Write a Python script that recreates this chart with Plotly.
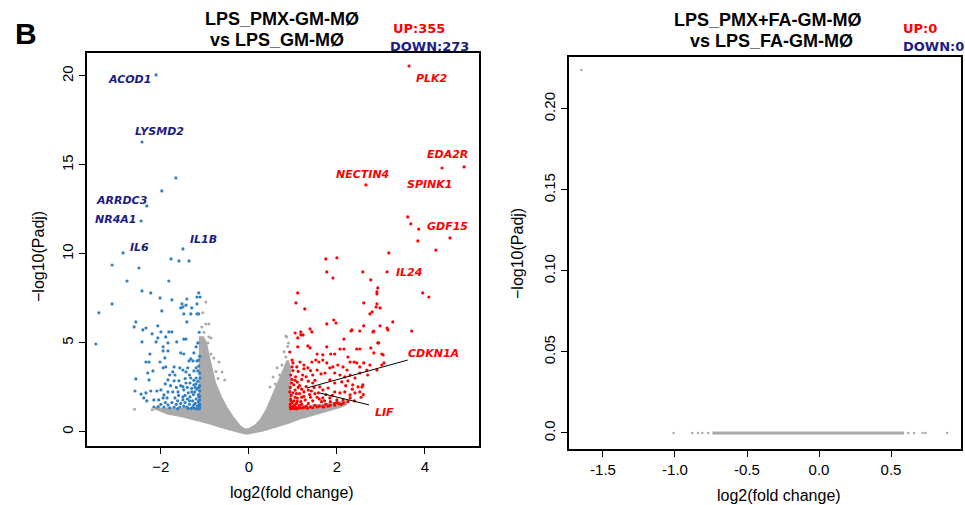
import plotly.graph_objects as go

W, H = 965, 505

# ---------------- Left panel data ----------------
blue_pts = [
(-2.11,20.06),(-2.43,16.29),(-1.66,14.27),(-1.98,13.54),(-2.32,12.70),(-2.45,11.85),(-2.86,10.06),(-1.50,10.28),
(-3.11,9.38),(-2.50,9.21),(-1.77,9.72),(-1.59,9.61),(-1.36,9.61),(-2.77,8.48),(-1.82,8.48),(-2.43,7.92),(-2.23,7.81),
(-2.02,7.53),(-1.75,7.42),(-1.41,7.47),(-1.18,7.58),(-1.14,7.81),(-1.11,7.58),(-3.11,7.19),(-1.52,7.19),(-1.55,6.97),
(-1.30,6.97),(-1.18,7.19),(-3.41,6.69),(-3.48,4.94),(-1.98,6.80),(-1.50,7.02),(-1.43,7.12),
(-1.48,6.63),(-1.32,6.63),(-1.18,6.63),(-1.14,6.63),(-1.41,6.18),(-2.57,6.18),(-2.61,5.90),(-2.34,5.84),(-2.41,5.73),
(-2.07,5.96),(-2.20,5.51),(-2.00,5.62),(-1.82,5.62),(-1.75,5.62),(-2.07,5.28),(-1.89,5.34),(-1.48,5.22),(-1.43,5.22),
(-2.43,5.06),(-2.11,5.06),(-1.84,5.00),(-1.64,5.06),(-1.95,4.78),(-1.84,4.55),(-1.95,4.55),(-1.20,4.78),(-2.25,4.38),
(-1.55,4.44),(-1.48,4.38),(-1.25,4.44),(-2.34,3.93),(-2.27,3.93),(-2.02,3.93),(-1.91,4.16),(-1.36,3.99),(-1.32,4.10),
(-1.27,3.99),(-1.18,3.99),(-1.14,4.04),(-1.70,3.65),(-1.89,3.65),(-1.95,3.60),(-1.57,3.60),(-1.50,3.48),(-1.39,3.60),
(-1.20,3.60),(-1.16,3.43),(-1.25,3.43),(-2.18,3.43),(-2.30,3.31),(-1.73,3.37),(-1.68,3.20),(-1.80,3.20),(-1.43,3.37),
(-1.32,3.03),(-1.20,3.03),(-1.11,3.03),(-2.57,2.98),(-2.27,2.92),(-1.84,2.92),(-1.70,2.87),(-1.59,2.87),(-1.43,2.75),
(-1.34,2.75),(-1.25,2.64),(-2.59,2.30),(-2.45,2.13),(-2.34,2.19),(-2.23,2.30),(-2.09,2.30),(-2.00,2.36),(-1.93,2.08),
(-1.84,2.25),(-1.73,2.25),(-1.61,2.25),(-1.48,2.36),(-2.39,1.91),(-2.32,1.74),(-2.16,1.80),(-2.05,1.80),(-1.95,1.91),
(-1.86,1.91),(-1.68,1.91),(-1.50,1.97),(-1.34,1.97),(-1.14,1.97),(-2.16,1.40),(-2.07,1.40),(-1.93,1.40),(-1.84,1.52),
(-1.70,1.40),(-1.57,1.40),(-1.41,1.40),(-1.25,1.52),(-1.14,1.52),
(-1.13,1.35),(-1.17,1.45),(-1.22,1.60),(-1.15,1.70),(-1.20,1.85),(-1.28,1.75),(-1.15,2.10),(-1.23,2.25),(-1.18,2.40),
(-1.30,2.45),(-1.38,2.20),(-1.12,2.60),(-1.16,2.85),(-1.28,1.40),(-1.35,1.55),(-1.45,1.65),(-1.40,1.85),(-1.55,1.60),
(-1.62,1.75),(-1.50,2.55),(-1.13,1.30),(-1.19,1.30),(-1.24,1.33),(-1.31,1.32),(-1.12,3.30),(-1.14,3.70),(-1.12,4.25),
(-1.16,5.00),(-1.13,5.60),
(-1.12,1.42),(-1.12,1.55),(-1.12,1.80),(-1.12,2.00),(-1.12,2.30),(-1.14,2.50),(-1.20,2.70),(-1.25,2.90),(-1.35,3.20),
(-1.45,3.00),(-1.55,2.60),(-1.65,2.50),(-1.78,2.60),(-1.90,2.70),(-1.45,2.05),(-1.60,2.05),(-1.75,1.65),(-1.90,1.65),
(-2.00,1.55),(-1.35,1.75),(-1.26,2.10),(-1.30,2.25),(-1.22,2.50),(-1.40,2.50),(-1.50,1.80),(-1.65,1.55),(-1.80,1.35),
(-1.48,1.45),(-1.62,1.30),(-1.38,1.32),
]
blue_x = [p[0] for p in blue_pts]
blue_y = [p[1] for p in blue_pts]

red_pts = [
(3.64,20.56),(4.39,14.83),(4.89,14.89),(2.66,13.88),(3.61,12.08),(3.68,11.69),(3.86,11.40),(4.57,10.90),(3.84,10.73),
(4.25,10.22),(3.18,10.06),(1.75,9.72),(2.00,9.78),(1.77,8.99),(1.91,8.65),(2.59,8.99),(2.77,8.54),(3.14,8.99),
(2.93,8.09),(2.91,7.87),(2.91,7.75),(3.95,7.81),(4.09,7.58),(1.11,7.81),(1.07,7.25),(1.27,6.91),(2.61,7.25),
(2.91,7.19),(2.98,6.97),(2.80,6.74),(2.75,6.63),(1.93,6.29),(1.77,6.07),(3.27,6.18),(1.39,5.79),(1.43,5.62),
(1.05,5.56),(1.18,5.62),(1.18,5.45),(1.23,5.45),(2.32,5.67),(2.52,5.67),(2.61,5.96),(2.84,5.67),(2.98,5.96),
(3.16,5.73),(3.70,5.67),(2.16,5.22),(1.11,5.28),(1.98,6.12),(1.11,4.78),(1.34,4.83),(1.39,4.72),(1.77,4.78),
(2.07,4.66),(2.16,4.66),(2.45,4.66),(2.52,4.66),(2.95,5.00),(2.77,4.72),(2.84,4.44),(3.02,4.38),(0.93,4.49),
(1.55,4.38),(1.68,4.33),(1.86,4.38),(1.95,4.38),(2.25,4.21),(2.30,3.93),(2.39,3.93),(0.98,4.04),(1.00,3.88),
(1.09,3.65),(1.43,3.93),(1.52,4.04),(1.59,3.93),(1.68,4.04),(1.16,3.93),(1.25,3.76),(1.34,3.60),(1.77,3.88),
(1.84,3.60),(1.91,3.65),(2.02,3.76),(2.14,3.65),(2.23,3.48),(2.45,3.88),(2.52,3.65),(2.61,3.88),(2.75,3.76),
(2.91,3.48),(3.02,3.76),(1.55,3.48),(1.64,3.26),(1.45,3.20),(1.73,3.31),(1.95,3.31),(2.07,3.20),(2.18,3.09),
(2.30,3.20),(2.41,3.03),(2.52,3.31),(2.68,3.48),(2.70,3.20),(1.84,2.92),(1.95,2.75),(2.11,2.81),(2.25,2.87),
(2.36,2.64),(2.48,2.53),(2.59,2.64),(1.45,2.75),(1.61,2.53),(1.68,2.36),(1.80,2.47),(1.95,2.25),(2.07,2.19),
(2.18,2.25),(2.30,2.08),(2.41,2.19),(2.52,2.25),(1.68,1.91),(1.84,1.91),(2.00,1.80),(2.14,1.80),(2.30,1.91),
(3.05,4.33),(3.07,3.88),(2.93,5.00),(3.14,5.84),(2.82,5.62),(2.34,5.73),(2.89,7.02),(2.57,2.53),
(0.95,1.30),(0.97,1.38),(1.00,1.45),(1.03,1.32),(1.06,1.40),(0.94,1.55),(0.98,1.65),(1.02,1.75),(0.95,1.85),
(1.08,1.60),(1.12,1.35),(1.15,1.50),(1.18,1.70),(1.10,1.90),(0.96,2.05),(1.00,2.20),(1.05,2.35),(0.94,2.50),
(1.02,2.65),(1.10,2.80),(0.98,2.95),(1.06,3.10),(1.15,2.15),(1.20,2.40),(1.25,2.00),(1.22,1.35),(1.30,1.45),
(1.28,1.80),(1.35,1.60),(1.40,1.40),(1.45,1.75),(1.38,2.10),(1.50,1.50),(1.55,1.95),(1.60,1.45),(1.65,1.70),
(1.70,1.40),(1.75,1.55),(1.85,1.50),(1.95,1.60),(2.05,1.58),(2.15,1.62),(2.25,1.70),(1.30,2.55),(1.42,2.30),
(1.20,2.95),(1.30,3.10),(1.12,3.40),(1.25,3.55),(1.50,2.90),(1.00,3.45),(0.95,3.20),(1.15,2.60),(1.35,2.85),
(1.48,2.50),(1.58,2.20),(1.75,2.10),(1.90,2.05),(2.40,1.75),(2.55,1.95),(2.60,2.10),(2.35,2.40),(2.20,2.60),
(0.94,1.40),(0.99,1.32),(1.04,1.52),(1.08,1.30),(1.10,1.72),(1.16,1.35),(1.20,1.55),(1.25,1.38),(1.33,1.33),
(1.45,1.36),(1.55,1.40),(1.68,1.42),(1.80,1.45),(1.95,1.50),(2.10,1.55),(0.96,1.75),(1.05,1.95),(0.93,2.25),
(1.08,2.15),(1.12,2.50),(0.97,2.75),(1.25,2.25),(1.35,2.35),(1.40,1.95),(1.50,2.15),(1.60,1.85),(1.72,1.75),
(1.85,1.70),(2.00,1.65),(1.22,3.20),(1.40,3.45),(0.98,3.65),(1.05,2.90),(1.20,1.95),
]
red_x = [p[0] for p in red_pts]
red_y = [p[1] for p in red_pts]

# outline of the dense grey (non-significant) cloud
cloud_pts = [
(-2.10,1.30),(-1.85,1.05),(-1.50,0.88),(-1.20,0.70),(-0.90,0.50),(-0.65,0.30),(-0.40,0.12),(-0.20,0.00),
(-0.05,-0.08),(0.10,-0.02),(0.30,0.08),(0.60,0.30),(0.90,0.52),(1.20,0.80),(1.50,1.00),(1.80,1.20),
(2.05,1.40),(2.20,1.55),(2.20,1.70),(1.60,1.50),(0.93,1.30),(0.93,3.60),(0.88,4.00),(0.78,3.40),(0.68,2.80),
(0.55,2.00),(0.42,1.30),(0.28,0.70),(0.15,0.35),(0.00,0.15),(-0.10,0.12),(-0.20,0.30),(-0.35,0.75),
(-0.50,1.30),(-0.65,2.00),(-0.78,2.80),(-0.86,3.60),(-0.93,4.40),(-0.98,5.00),(-1.04,5.30),(-1.11,5.30),
(-1.11,1.30),(-2.10,1.30),
]
cloud_x = [p[0] for p in cloud_pts]
cloud_y = [p[1] for p in cloud_pts]

grey_pts = [
(-0.98,7.30),(-1.05,6.69),(-0.98,6.07),(-0.91,6.07),(-0.91,5.34),(-0.86,5.28),(-1.00,4.89),(-0.93,5.00),
(-0.98,4.44),(-0.86,4.38),(-0.80,4.16),(-0.68,3.93),(-0.61,3.37),(-0.55,2.92),(0.84,5.39),(0.84,4.21),
(0.64,3.60),(0.75,3.76),(0.55,3.09),(0.48,2.53),(0.86,5.34),(0.88,4.80),(0.90,5.00),(-2.05,1.45),(-2.12,1.30),
(-2.20,1.25),(-1.02,5.60),(-1.07,5.90),(-0.75,3.40),(-0.70,3.00),(0.70,3.20),(0.80,4.50),(0.60,2.70),(-2.60,1.28),
]
grey_x = [p[0] for p in grey_pts]
grey_y = [p[1] for p in grey_pts]

# gene labels: (text, x, y, colour key, anchor)
gene_labels = [
("ACOD1", -2.18, 19.78, "down", "right"),
("PLK2", 3.75, 19.83, "up", "left"),
("LYSMD2", -2.03, 16.90, "down", "center"),
("EDA2R", 4.51, 15.56, "up", "center"),
("NECTIN4", 2.58, 14.49, "up", "center"),
("SPINK1", 4.11, 13.93, "up", "center"),
("ARRDC3", -2.89, 12.98, "down", "center"),
("NR4A1", -3.01, 11.91, "down", "center"),
("GDF15", 4.52, 11.57, "up", "center"),
("IL1B", -1.03, 10.84, "down", "center"),
("IL6", -2.49, 10.39, "down", "center"),
("IL24", 3.63, 8.93, "up", "center"),
("CDKN1A", 4.19, 4.38, "up", "center"),
("LIF", 3.09, 1.12, "up", "center"),
]
leader_cdkn1a_x = [3.61, 1.32]
leader_cdkn1a_y = [4.04, 2.47]
leader_lif_x = [2.73, 1.61]
leader_lif_y = [1.52, 2.19]

# ---------------- Right panel data ----------------
r_pts_x = [-1.65, -1.01, -0.88, -0.84, -0.81, -0.77, 0.62, 0.66, 0.72, 0.74, 0.89]
r_pts_y = [0.224, 0, 0, 0, 0, 0, 0, 0, 0, 0, 0]
r_band_x = [-0.74, 0.59]
r_band_y = [0, 0]

left_ticks = [0, 5, 10, 15, 20]
left_xticks = [-2, 0, 2, 4]
right_yticks = [0.0, 0.05, 0.10, 0.15, 0.20]
right_yticktext = ["0.0", "0.05", "0.10", "0.15", "0.20"]
right_xticks = [-1.5, -1.0, -0.5, 0.0, 0.5]
right_xticktext = ["-1.5", "-1.0", "-0.5", "0.0", "0.5"]

GREY = "#aaaaaa"
BLUE = "#2f7fc1"
RED = "#ff0000"
NAVY = "#1c1c84"
LBL = {"up": RED, "down": NAVY}

fig = go.Figure()
fig.add_trace(go.Scatter(x=cloud_x, y=cloud_y, mode="lines", fill="toself", fillcolor=GREY,
                         line=dict(color=GREY, width=2.5), xaxis="x", yaxis="y", hoverinfo="skip"))
fig.add_trace(go.Scatter(x=grey_x, y=grey_y, mode="markers", marker=dict(color=GREY, size=3),
                         xaxis="x", yaxis="y"))
fig.add_trace(go.Scatter(x=blue_x, y=blue_y, mode="markers", marker=dict(color=BLUE, size=3.2),
                         xaxis="x", yaxis="y"))
fig.add_trace(go.Scatter(x=red_x, y=red_y, mode="markers", marker=dict(color=RED, size=3.2),
                         xaxis="x", yaxis="y"))
for lx, ly in [(leader_cdkn1a_x, leader_cdkn1a_y), (leader_lif_x, leader_lif_y)]:
    fig.add_trace(go.Scatter(x=lx, y=ly, mode="lines", line=dict(color="black", width=1),
                             xaxis="x", yaxis="y"))

fig.add_trace(go.Scatter(x=r_band_x, y=r_band_y, mode="lines", line=dict(color=GREY, width=3),
                         xaxis="x2", yaxis="y2"))
fig.add_trace(go.Scatter(x=r_pts_x, y=r_pts_y, mode="markers", marker=dict(color=GREY, size=2.5),
                         xaxis="x2", yaxis="y2"))

ann = []
for t, x, y, k, a in gene_labels:
    ann.append(dict(x=x, y=y, xref="x", yref="y", text="<b><i>%s</i></b>" % t, showarrow=False,
                    xanchor=a, yanchor="middle",
                    font=dict(family="DejaVu Sans", size=11, color=LBL[k])))

def P(px, py):
    return px / W, 1 - py / H

def pann(px, py, text, size, color="black", family="Liberation Sans", angle=0, xa="center"):
    x, y = P(px, py)
    ann.append(dict(x=x, y=y, xref="paper", yref="paper", text=text, showarrow=False,
                    xanchor=xa, yanchor="middle", textangle=angle,
                    font=dict(family=family, size=size, color=color)))

pann(26, 33, "<b>B</b>", 30, family="Liberation Sans")
pann(282, 19, "<b>LPS_PMX-GM-MØ</b>", 18)
pann(277, 40, "<b>vs LPS_GM-MØ</b>", 18)
pann(391, 28, "<b>UP:355</b>", 13, RED, "DejaVu Sans", xa="left")
pann(388, 47, "<b>DOWN:273</b>", 13, NAVY, "DejaVu Sans", xa="left")
pann(768, 20, "<b>LPS_PMX+FA-GM-MØ</b>", 18)
pann(771, 41, "<b>vs LPS_FA-GM-MØ</b>", 18)
pann(901, 28, "<b>UP:0</b>", 13, RED, "DejaVu Sans", xa="left")
pann(901, 47, "<b>DOWN:0</b>", 13, NAVY, "DejaVu Sans", xa="left")
pann(292, 492, "log2(fold change)", 16)
pann(779, 495, "log2(fold change)", 16)
pann(38, 257, "−log10(Padj)", 16, angle=-90)
pann(517, 254, "−log10(Padj)", 16, angle=-90)

axis_common = dict(showgrid=False, zeroline=False, showline=True, mirror=True, linecolor="black",
                   linewidth=1.5, ticks="outside", ticklen=6, tickwidth=1.2, tickcolor="black",
                   tickfont=dict(family="Liberation Sans", size=15, color="black"))

fig.update_layout(
    width=W, height=H, margin=dict(l=0, r=0, t=0, b=0),
    paper_bgcolor="white", plot_bgcolor="white", showlegend=False,
    xaxis=dict(domain=[87 / W, 479 / W], range=[-3.68, 5.23], tickvals=left_xticks,
               anchor="y", **axis_common),
    yaxis=dict(domain=[(H - 446) / H, (H - 53) / H], range=[-0.79, 21.29], tickvals=left_ticks,
               tickangle=-90, anchor="x", **axis_common),
    xaxis2=dict(domain=[569 / W, 961 / W], range=[-1.736, 0.986], tickvals=right_xticks,
                ticktext=right_xticktext, anchor="y2", **axis_common),
    yaxis2=dict(domain=[(H - 449) / H, (H - 57) / H], range=[-0.0099, 0.232], tickvals=right_yticks,
                ticktext=right_yticktext, tickangle=-90, anchor="x2", **axis_common),
    annotations=ann,
)

fig.write_html("out.html", config={"displayModeBar": False},
               post_script="document.body.style.margin='0';document.body.style.overflow='hidden';")
